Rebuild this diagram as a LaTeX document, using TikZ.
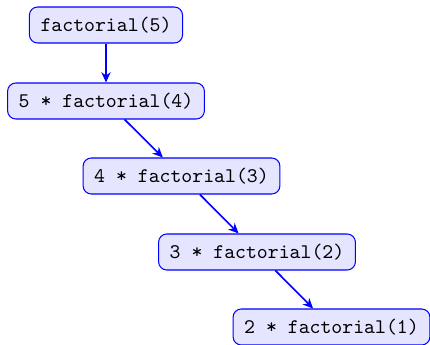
\documentclass[tikz,border=0pt]{standalone}
\usetikzlibrary{arrows.meta}
\begin{document}
\begin{tikzpicture}[x=0.486pt,y=-0.486pt,
  callbox/.style={draw=blue, fill=blue!10, rounded corners=4pt, font=\ttfamily\fontsize{10.1}{12}\selectfont, inner xsep=5.4pt, minimum height=17.5pt, line width=0.5pt},
  callarrow/.style={draw=blue, line width=0.8pt, -{Stealth[length=5pt,width=4.5pt]}}]
\useasboundingbox (0,0) rectangle (430,345);
\node[callbox] (n1) at (106,25) {factorial(5)};
\node[callbox] (n2) at (106,101) {5 * factorial(4)};
\node[callbox] (n3) at (181.5,176) {4 * factorial(3)};
\node[callbox] (n4) at (257,252) {3 * factorial(2)};
\node[callbox] (n5) at (331.5,327) {2 * factorial(1)};
\draw[callarrow] (n1) -- (n2);
\draw[callarrow] (n2) -- (n3);
\draw[callarrow] (n3) -- (n4);
\draw[callarrow] (n4) -- (n5);
\end{tikzpicture}
\end{document}
